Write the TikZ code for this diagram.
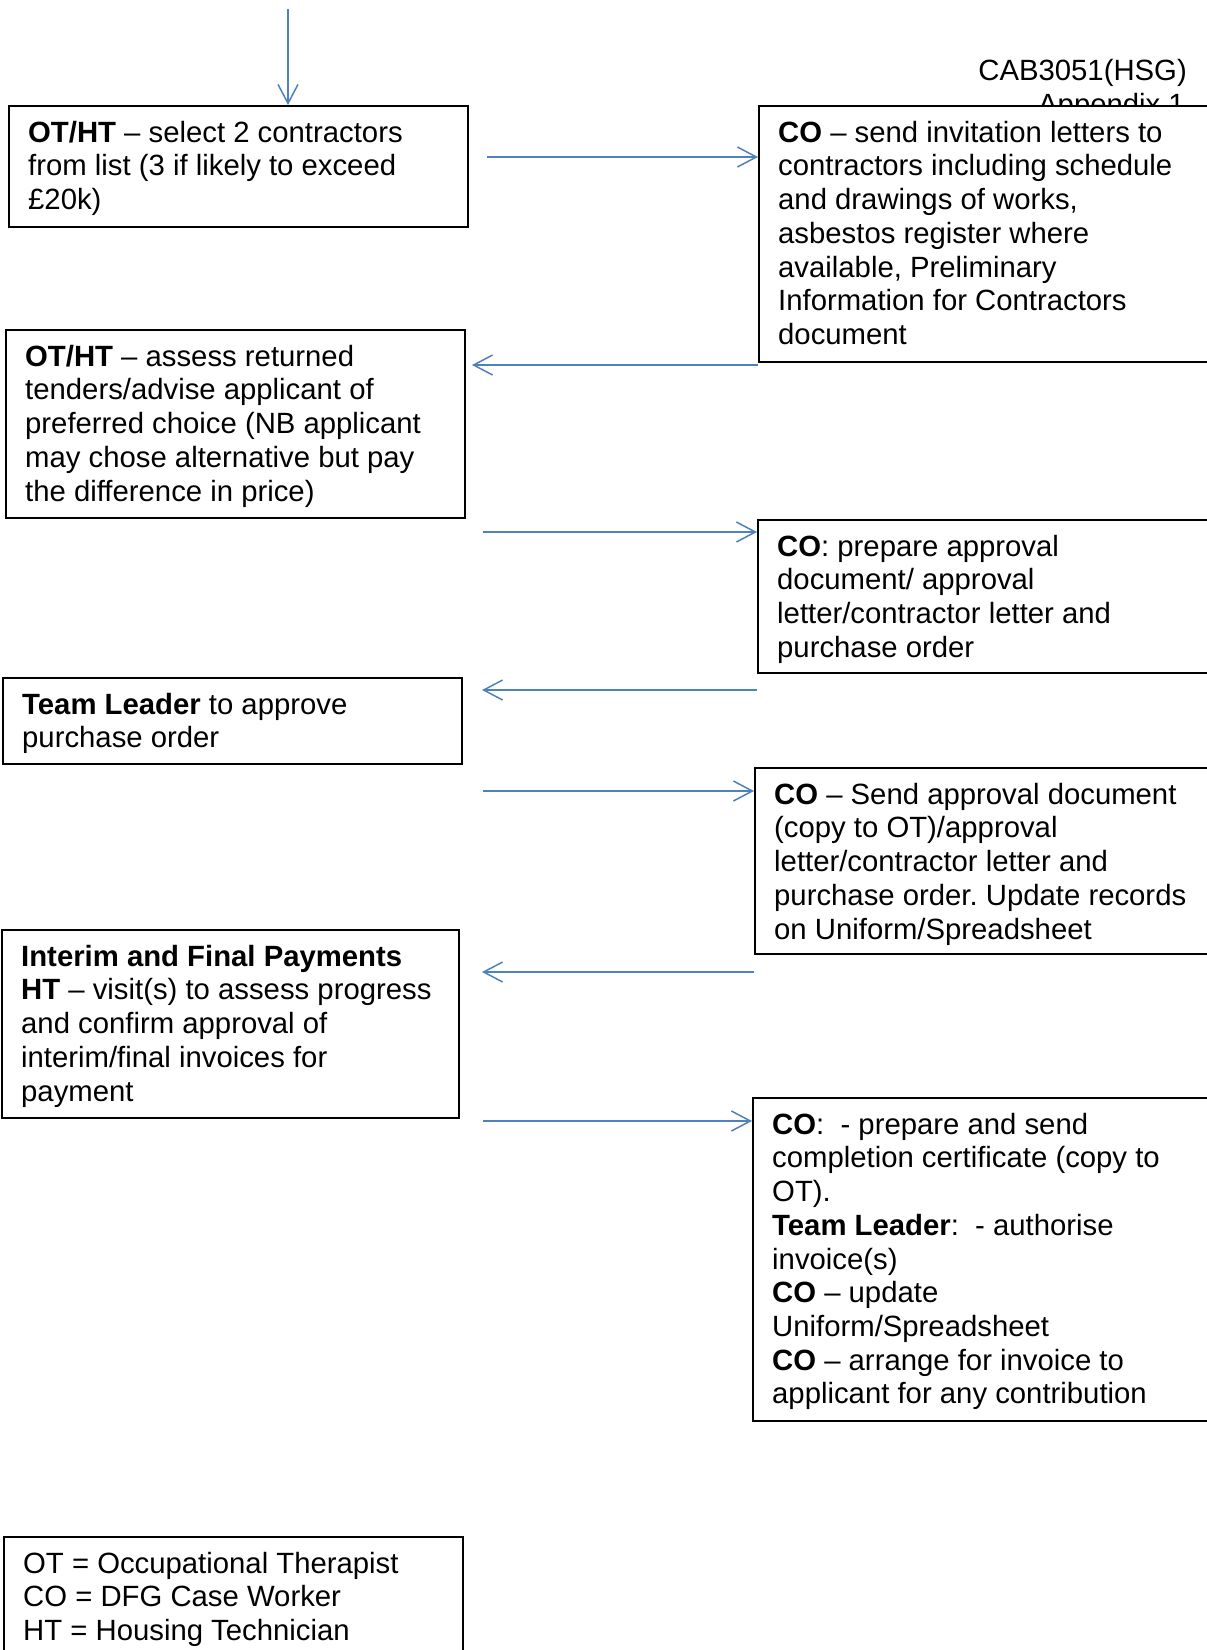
\documentclass[tikz,border=0pt]{standalone}
\usepackage{fontspec}
\setmainfont{Liberation Sans}
\usetikzlibrary{arrows.meta}
\definecolor{arrblue}{RGB}{79,129,189}
\newcommand\mystrut{\rule{0pt}{24pt}}
\frenchspacing
\begin{document}
\begin{tikzpicture}[x=1pt,y=-1pt,
  box/.style={draw=black, line width=1.9pt, fill=white, inner sep=0pt, anchor=north west},
  txt/.style={anchor=north west, inner sep=0pt, align=left,
    font=\fontsize{29.3pt}{33.7pt}\selectfont, xshift=20pt, yshift=-13pt},
  hdr/.style={anchor=base east, inner sep=0pt, font=\fontsize{29.3pt}{33.7pt}\selectfont},
  arr/.style={draw=arrblue, line width=1.5pt, -{Straight Barb[length=19pt,width=20pt]}}]
\clip (0,0) rectangle (1207,1650);
\fill[white] (0,0) rectangle (1207,1650);

% header
\node[hdr] (h1) at (1187,80) {CAB3051(HSG)};
\node[hdr] (h2) at (1185,114) {Appendix 1};

% boxes
\node[box, minimum width=459pt, minimum height=121pt] (L1) at (8,105) {};
\node[box, minimum width=472pt, minimum height=256pt] (R1) at (758,105) {};
\node[box, minimum width=459pt, minimum height=188pt] (L2) at (5,329) {};
\node[box, minimum width=473pt, minimum height=153pt] (R2) at (757,519) {};
\node[box, minimum width=459pt, minimum height=86pt] (L3) at (2,677) {};
\node[box, minimum width=476pt, minimum height=186pt] (R3) at (754,767) {};
\node[box, minimum width=457pt, minimum height=188pt] (L4) at (1,929) {};
\node[box, minimum width=478pt, minimum height=323pt] (R4) at (752,1097) {};
\node[box, minimum width=459pt, minimum height=130pt] (LG) at (3,1536) {};

% texts
\node[txt] (L1t) at (L1.north west) {\mystrut\textbf{OT/HT} – select 2 contractors\\from list (3 if likely to exceed\\£20k)};
\node[txt] (R1t) at (R1.north west) {\mystrut\textbf{CO} – send invitation letters to\\contractors including schedule\\and drawings of works,\\asbestos register where\\available, Preliminary\\Information for Contractors\\document};
\node[txt] (L2t) at (L2.north west) {\mystrut\textbf{OT/HT} – assess returned\\tenders/advise applicant of\\preferred choice (NB applicant\\may chose alternative but pay\\the difference in price)};
\node[txt] (R2t) at (R2.north west) {\mystrut\textbf{CO}: prepare approval\\document/ approval\\letter/contractor letter and\\purchase order};
\node[txt] (L3t) at (L3.north west) {\mystrut\textbf{Team Leader} to approve\\purchase order};
\node[txt] (R3t) at (R3.north west) {\mystrut\textbf{CO} – Send approval document\\(copy to OT)/approval\\letter/contractor letter and\\purchase order. Update records\\on Uniform/Spreadsheet};
\node[txt] (L4t) at (L4.north west) {\mystrut\textbf{Interim and Final Payments}\\\textbf{HT} – visit(s) to assess progress\\and confirm approval of\\interim/final invoices for\\payment};
\node[txt] (R4t) at (R4.north west) {\mystrut\textbf{CO}:\ \ - prepare and send\\completion certificate (copy to\\OT).\\\textbf{Team Leader}:\ \ - authorise\\invoice(s)\\\textbf{CO} – update\\Uniform/Spreadsheet\\\textbf{CO} – arrange for invoice to\\applicant for any contribution};
\node[txt] (LGt) at (LG.north west) {\mystrut OT = Occupational Therapist\\CO = DFG Case Worker\\HT = Housing Technician};

% arrow end coordinates
\coordinate (t0) at (288,9);
\coordinate (s1) at (487,157);
\coordinate (e2) at (472,365);
\coordinate (s3) at (483,532);
\coordinate (e4) at (482,690);
\coordinate (s5) at (483,791);
\coordinate (e6) at (482,972);
\coordinate (s7) at (483,1121);

% connectors
\draw[arr] (t0) -- (t0 |- L1.north);
\draw[arr] (s1) -- (R1.west |- s1);
\draw[arr] (R1.west |- e2) -- (e2);
\draw[arr] (s3) -- (R2.west |- s3);
\draw[arr] (R2.west |- e4) -- (e4);
\draw[arr] (s5) -- (R3.west |- s5);
\draw[arr] (R3.west |- e6) -- (e6);
\draw[arr] (s7) -- (R4.west |- s7);
\end{tikzpicture}
\end{document}
